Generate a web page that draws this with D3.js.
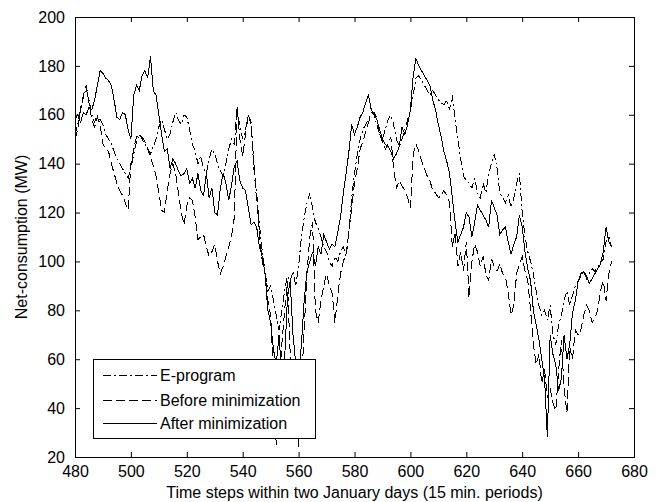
<!DOCTYPE html>
<html>
<head>
<meta charset="utf-8">
<script src="https://cdn.jsdelivr.net/npm/d3@7"></script>
<style>
  body { margin: 0; background: #fff; }
  svg { display: block; font-family: "Liberation Sans", Arial, sans-serif; }
</style>
</head>
<body>
<div class="chart"></div>
<script>
// time steps 480..672
const startStep = 480;

const eProgram = [
  152,156,162,167,171,166,160,157,160,158,
  156,152,150,148,145,142,140,138,136,134,
  138,144,149,152,150,148,146,144,147,150,
  155,158,154,150,152,157,161,158,156,160,
  159,154,148,145,140,143,138,136,142,146,
  144,140,137,135,140,146,150,148,163,155,
  150,154,160,157,140,128,115,104,96,88,
  90,84,78,72,80,88,94,92,96,90,
  98,110,118,124,128,122,116,114,110,106,
  104,100,98,102,100,104,106,102,112,126,
  136,144,150,154,156,158,161,160,156,152,
  150,154,158,160,156,150,147,150,154,158,
  162,168,175,176,174,172,170,168,170,168,
  166,165,164,166,162,168,158,150,142,135,
  133,132,130,134,128,126,132,128,136,140,
  144,138,128,126,124,127,122,126,132,136,
  120,110,104,100,95,88,82,78,80,76,
  82,70,66,74,78,84,88,82,86,90,
  92,94,96,93,95,97,96,98,99,101,
  108,110,106
];

const beforeMin = [
  150,154,163,168,172,165,158,155,159,156,
  148,146,145,140,136,132,129,127,124,121,
  140,146,151,152,151,149,146,143,139,135,
  128,121,120,129,136,140,136,128,120,115,
  123,126,125,118,109,110,111,106,102,104,
  107,100,95,98,102,106,110,118,163,150,
  143,152,160,156,138,125,110,100,95,84,
  78,52,25,48,66,80,92,62,55,40,
  24,48,72,95,110,116,80,75,84,90,
  95,90,87,75,86,95,100,103,112,122,
  132,138,146,149,153,157,160,161,159,152,
  149,146,148,151,138,130,133,131,129,126,
  122,144,148,145,141,138,135,133,129,128,
  126,127,129,127,124,106,112,98,104,96,
  108,85,100,107,104,98,102,95,92,101,
  98,96,99,95,94,87,78,82,95,99,
  102,96,92,80,66,58,62,50,56,44,
  48,42,39,55,68,48,38,65,60,72,
  70,72,78,82,80,75,77,80,88,92,
  84,95,100
];

const afterMin = [
  158,160,157,161,160,163,162,166,172,178,
  177,175,174,172,166,159,158,161,160,154,
  150,168,172,170,176,178,175,184,170,168,
  160,152,145,146,138,142,140,137,135,136,
  138,132,134,130,136,129,127,136,126,130,
  120,119,130,136,132,125,131,139,141,133,
  130,129,122,115,116,114,106,102,95,80,
  75,64,58,70,52,60,85,92,70,58,
  52,66,84,96,100,104,98,106,103,111,
  108,105,107,106,112,118,128,136,145,156,
  152,155,159,161,165,168,162,160,158,154,
  150,148,147,145,142,144,147,155,152,156,
  162,176,183,180,178,176,174,172,166,162,
  156,151,145,141,136,126,116,108,111,114,
  120,118,110,116,123,121,119,117,114,125,
  122,119,111,113,114,108,103,107,110,119,
  114,104,97,92,80,74,68,60,52,28,
  70,62,58,47,52,70,60,66,79,84,
  92,95,96,94,91,93,95,97,99,104,
  114,108,106
];

const xTicks = [480,500,520,540,560,580,600,620,640,660,680];
const yTicks = [20,40,60,80,100,120,140,160,180,200];

const seriesNames = ["E-program", "Before minimization", "After minimization"];
const seriesDash = ["8,3,2,3", "9,4", null];

const margin = {top: 17, right: 34, bottom: 45, left: 75};
const W = 668, H = 502;
const width = W - margin.left - margin.right;
const height = H - margin.top - margin.bottom;

const svg = d3.select(".chart")
  .append("svg")
  .attr("width", W)
  .attr("height", H);

const g = svg.append("g")
  .attr("transform", `translate(${margin.left},${margin.top})`);

const xScale = d3.scaleLinear().domain([480, 680]).range([0, width]);
const yScale = d3.scaleLinear().domain([20, 200]).range([height, 0]);

g.append("clipPath").attr("id", "plotclip")
  .append("rect").attr("width", width).attr("height", height);

// lines (aliased like the original screen capture)
const line = d3.line()
  .x((d, i) => xScale(startStep + i))
  .y(d => yScale(d));

const allSeries = [eProgram, beforeMin, afterMin];
allSeries.forEach((s, k) => {
  g.append("path")
    .datum(s)
    .attr("clip-path", "url(#plotclip)")
    .attr("fill", "none")
    .attr("stroke", "black")
    .attr("stroke-width", 1)
    .attr("shape-rendering", "crispEdges")
    .attr("stroke-dasharray", seriesDash[k])
    .attr("d", line);
});

// axes, ticks pointing inwards on all sides
function styleAxis(sel) {
  sel.attr("font-family", "Liberation Sans, Arial, sans-serif")
    .attr("font-size", 16);
  sel.selectAll("text").attr("fill", "black");
  sel.selectAll("line").attr("stroke", "black");
  sel.select(".domain").remove();
}

g.append("g")
  .attr("transform", `translate(0,${height})`)
  .call(d3.axisBottom(xScale).tickValues(xTicks).tickSize(-5).tickPadding(9))
  .call(styleAxis);

g.append("g")
  .call(d3.axisTop(xScale).tickValues(xTicks).tickSize(-5).tickFormat(""))
  .call(styleAxis);

g.append("g")
  .call(d3.axisLeft(yScale).tickValues(yTicks).tickSize(-5).tickPadding(10))
  .call(styleAxis);

g.append("g")
  .attr("transform", `translate(${width},0)`)
  .call(d3.axisRight(yScale).tickValues(yTicks).tickSize(-5).tickFormat(""))
  .call(styleAxis);

// box
g.append("rect")
  .attr("x", 0.5).attr("y", 0.5)
  .attr("width", width).attr("height", height)
  .attr("fill", "none")
  .attr("stroke", "black")
  .attr("stroke-width", 1);

// axis titles
svg.append("text")
  .attr("x", margin.left + width / 2)
  .attr("y", 498)
  .attr("text-anchor", "middle")
  .attr("font-size", 16)
  .text("Time steps within two January days (15 min. periods)");

svg.append("text")
  .attr("transform", `translate(27,${margin.top + height / 2}) rotate(-90)`)
  .attr("text-anchor", "middle")
  .attr("font-size", 16)
  .text("Net-consumption (MW)");

// legend
const legend = svg.append("g").attr("transform", "translate(93,359)");
legend.append("rect")
  .attr("x", 0.5).attr("y", 0.5)
  .attr("width", 222).attr("height", 79)
  .attr("fill", "white")
  .attr("stroke", "black");

const rowY = [16, 41, 64];
seriesNames.forEach((name, k) => {
  legend.append("line")
    .attr("x1", 10).attr("x2", 64)
    .attr("y1", rowY[k] + 0.5).attr("y2", rowY[k] + 0.5)
    .attr("stroke", "black")
    .attr("stroke-dasharray", seriesDash[k]);
  legend.append("text")
    .attr("x", 67)
    .attr("y", rowY[k])
    .attr("dy", "0.35em")
    .attr("font-size", 16)
    .text(name);
});
</script>
</body>
</html>
